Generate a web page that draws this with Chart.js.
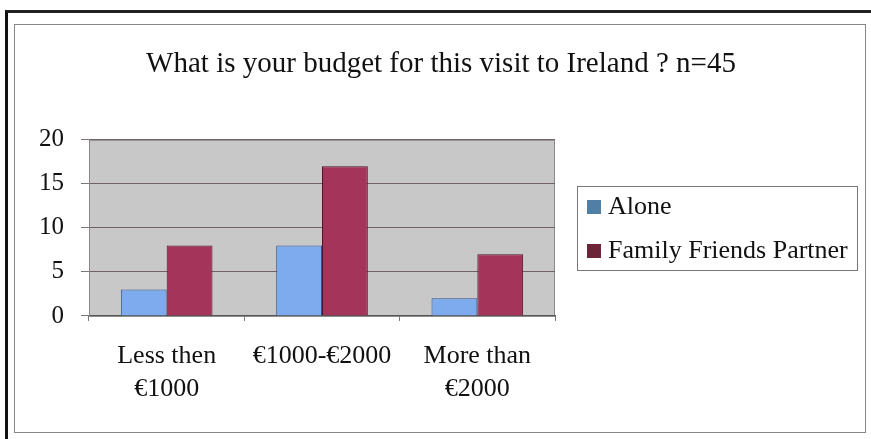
<!DOCTYPE html>
<html><head><meta charset="utf-8">
<script src="https://cdn.jsdelivr.net/npm/chart.js@4"></script>
<style>
html,body{margin:0;padding:0;background:#fff;}
#outer{position:absolute;left:5px;top:10px;width:866px;height:429px;border-left:3px solid #111;border-top:3px solid #222;box-sizing:border-box;}
#inner{position:absolute;left:14px;top:24px;width:852px;height:409px;border:1px solid #888;box-sizing:border-box;}
#wrap{position:absolute;left:0;top:0;width:871px;height:439px;}
</style></head>
<body>
<div id="outer"></div><div id="inner"></div>
<div id="wrap"><canvas id="c" width="871" height="439"></canvas></div>
<script>
const categories = [['Less then','€1000'], '€1000-€2000', ['More than','€2000']];
const seriesNames = ['Alone', 'Family Friends Partner'];
const aloneValues = [3, 8, 2];
const familyValues = [8, 17, 7];
const yTicks = [0, 5, 10, 15, 20];
const titleText = 'What is your budget for this visit to Ireland ? n=45';
const legendSwatches = ['#4f7fa5', '#6b2438'];

const serif = '"Liberation Serif", "Times New Roman", serif';

const plotBg = {
  id: 'plotBg',
  beforeDraw(chart) {
    const {ctx, chartArea: a} = chart;
    ctx.save();
    ctx.fillStyle = '#c8c8c8';
    ctx.fillRect(a.left, a.top, a.right - a.left, a.bottom - a.top);
    ctx.strokeStyle = '#8a8a8a';
    ctx.lineWidth = 1;
    ctx.strokeRect(a.left + 0.5, a.top + 0.5, a.right - a.left - 1, a.bottom - a.top);
    ctx.restore();
  },
  afterDraw(chart) {
    // Legend box to the right of the plot area, built from dataset labels
    const {ctx} = chart;
    const boxL = 577, boxR = 857;
    const items = chart.data.datasets;
    const rowH = 44;
    const cy = 228;
    const boxT = cy - 42, boxB = cy + 42;
    ctx.save();
    ctx.strokeStyle = '#777';
    ctx.lineWidth = 1;
    ctx.strokeRect(boxL + 0.5, boxT + 0.5, boxR - boxL, boxB - boxT);
    ctx.font = '26px ' + serif;
    ctx.textBaseline = 'middle';
    ctx.textAlign = 'left';
    items.forEach((d, i) => {
      const y = cy - rowH / 2 + i * rowH + 1;
      ctx.fillStyle = legendSwatches[i];
      ctx.fillRect(Math.round(boxL + 10), Math.round(y - 7), 14, 14);
      ctx.fillStyle = '#111';
      ctx.fillText(d.label, boxL + 31, y);
    });
    ctx.restore();
  }
};

new Chart(document.getElementById('c'), {
  type: 'bar',
  data: {
    labels: categories,
    datasets: [
      { label: seriesNames[0], data: aloneValues, backgroundColor: '#7eaaee', borderColor: '#34548a', borderWidth: 1 },
      { label: seriesNames[1], data: familyValues, backgroundColor: '#a5345a', borderColor: '#4e1226', borderWidth: 1 }
    ]
  },
  options: {
    responsive: false,
    animation: false,
    layout: { padding: { left: 22, right: 11, top: 0, bottom: 14 } },
    datasets: { bar: { categoryPercentage: 0.59, barPercentage: 1.0 } },
    plugins: {
      title: {
        display: true, text: titleText, color: '#111',
        font: { family: serif, size: 29, weight: 'normal' },
        padding: { top: 47, bottom: 58 }
      },
      legend: { display: false },
      tooltip: { enabled: false }
    },
    scales: {
      x: {
        grid: { display: true, drawOnChartArea: false, drawTicks: true, tickLength: 5, color: '#777', offset: true },
        border: { display: true, color: '#555' },
        ticks: { color: '#111', font: { family: serif, size: 26, lineHeight: 1.27 }, padding: 19, maxRotation: 0, autoSkip: false }
      },
      y: {
        min: 0, max: 20,
        afterBuildTicks(axis) { axis.ticks = yTicks.map(v => ({ value: v })); },
        grid: { color: '#6f6268', lineWidth: 1, drawTicks: true, tickLength: 8, tickColor: '#777' },
        border: { display: true, color: '#888' },
        ticks: { color: '#111', font: { family: serif, size: 25 }, padding: 17 }
      },
      legendSpace: {
        position: 'right', display: true,
        grid: { display: false, drawOnChartArea: false }, border: { display: false },
        ticks: { display: false },
        afterFit(scale) { scale.width = 305; }
      }
    }
  },
  plugins: [plotBg]
});
</script>
</body></html>
